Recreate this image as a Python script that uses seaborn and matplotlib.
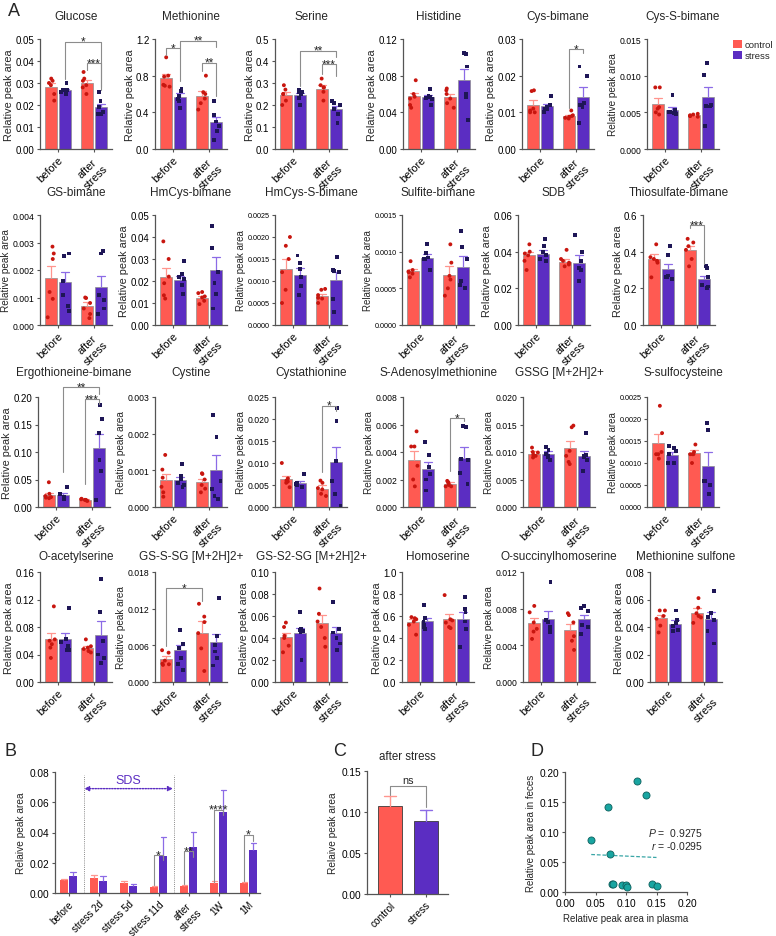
import numpy as np
import pandas as pd
import matplotlib
matplotlib.use("Agg")
import matplotlib.pyplot as plt
import seaborn as sns
from matplotlib.patches import Patch

sns.set_theme(style="ticks")
plt.rcParams['font.family'] = ['Liberation Sans', 'DejaVu Sans']
plt.rcParams['mathtext.fontset'] = 'custom'
plt.rcParams['mathtext.rm'] = 'Liberation Sans'
plt.rcParams['mathtext.it'] = 'Liberation Sans:italic'

TIMES = ["before", "after\nstress"]
GROUPS = ["control", "stress"]

# ---------------- Panel A data: order [before-control, before-stress, after-control, after-stress]
glucose_mean = [0.0283, 0.0268, 0.0300, 0.0193]
glucose_sem = [0.0015, 0.0007, 0.0015, 0.0013]
glucose_pts = [[0.032, 0.031, 0.030, 0.029, 0.025, 0.022], [0.030, 0.027, 0.027, 0.026, 0.026, 0.025],
               [0.035, 0.032, 0.031, 0.029, 0.028, 0.025], [0.026, 0.022, 0.019, 0.017, 0.016, 0.016]]
methionine_mean = [0.78, 0.57, 0.58, 0.29]
methionine_sem = [0.04, 0.04, 0.05, 0.06]
methionine_pts = [[1.00, 0.80, 0.79, 0.70, 0.69, 0.68], [0.66, 0.63, 0.58, 0.55, 0.52, 0.45],
                  [0.80, 0.62, 0.60, 0.55, 0.50, 0.43], [0.52, 0.37, 0.30, 0.25, 0.20, 0.10]]
serine_mean = [0.247, 0.245, 0.275, 0.180]
serine_sem = [0.012, 0.011, 0.014, 0.015]
serine_pts = [[0.29, 0.27, 0.25, 0.25, 0.22, 0.20], [0.27, 0.26, 0.26, 0.25, 0.23, 0.20],
              [0.32, 0.29, 0.28, 0.28, 0.26, 0.22], [0.22, 0.21, 0.20, 0.18, 0.16, 0.12]]
histidine_mean = [0.058, 0.057, 0.057, 0.075]
histidine_sem = [0.003, 0.002, 0.003, 0.012]
histidine_pts = [[0.075, 0.060, 0.057, 0.055, 0.048, 0.045], [0.065, 0.058, 0.057, 0.056, 0.055, 0.048],
                 [0.066, 0.064, 0.060, 0.055, 0.050, 0.045], [0.104, 0.105, 0.090, 0.060, 0.057, 0.032]]
cysb_mean = [0.0120, 0.0117, 0.0090, 0.0143]
cysb_sem = [0.0013, 0.0005, 0.0004, 0.0025]
cysb_pts = [[0.0160, 0.0158, 0.0110, 0.0105, 0.0100, 0.0100], [0.0145, 0.0120, 0.0115, 0.0110, 0.0110, 0.0100],
            [0.0105, 0.0092, 0.0090, 0.0088, 0.0085, 0.0083], [0.0225, 0.0200, 0.0125, 0.0120, 0.0115, 0.0070]]
cyssb_mean = [0.0062, 0.0053, 0.0046, 0.0071]
cyssb_sem = [0.0007, 0.0004, 0.0001, 0.0013]
cyssb_pts = [[0.0084, 0.0084, 0.0057, 0.0055, 0.0050, 0.0047], [0.0074, 0.0053, 0.0051, 0.0050, 0.0049, 0.0048],
             [0.0048, 0.0047, 0.0046, 0.0045, 0.0045, 0.0044], [0.0117, 0.0101, 0.0060, 0.0059, 0.0058, 0.0031]]
gsb_mean = [0.00170, 0.00155, 0.00070, 0.00140]
gsb_sem = [0.00043, 0.00037, 0.00013, 0.00040]
gsb_pts = [[0.00285, 0.00260, 0.00240, 0.00120, 0.00095, 0.00028], [0.00260, 0.00250, 0.00160, 0.00110, 0.00070, 0.00050],
           [0.00100, 0.00098, 0.00080, 0.00060, 0.00040, 0.00025], [0.00270, 0.00260, 0.00110, 0.00090, 0.00060, 0.00040]]
hmcysb_mean = [0.0220, 0.0205, 0.0123, 0.0250]
hmcysb_sem = [0.0040, 0.0020, 0.0010, 0.0060]
hmcysb_pts = [[0.038, 0.030, 0.022, 0.019, 0.0135, 0.012], [0.029, 0.023, 0.022, 0.021, 0.018, 0.014],
              [0.015, 0.0145, 0.013, 0.0125, 0.011, 0.0095], [0.045, 0.035, 0.024, 0.019, 0.014, 0.0075]]
hmcyssb_mean = [0.00128, 0.00114, 0.00065, 0.00103]
hmcyssb_sem = [0.00023, 0.00015, 0.00005, 0.00018]
hmcyssb_pts = [[0.0020, 0.0018, 0.0015, 0.0012, 0.0008, 0.0005], [0.00158, 0.0014, 0.00128, 0.0011, 0.00088, 0.00068],
               [0.00082, 0.0008, 0.00068, 0.00062, 0.0006, 0.0005], [0.00155, 0.00125, 0.00122, 0.0012, 0.0006, 0.0003]]
sulfite_mean = [0.00073, 0.00092, 0.00068, 0.00079]
sulfite_sem = [0.00003, 0.00005, 0.00012, 0.00015]
sulfite_pts = [[0.00087, 0.00075, 0.00073, 0.00072, 0.00070, 0.00065], [0.00110, 0.00098, 0.00092, 0.00090, 0.00090, 0.00075],
               [0.00110, 0.00085, 0.00067, 0.00062, 0.00050, 0.00040], [0.00128, 0.00106, 0.00090, 0.00060, 0.00055, 0.00050]]
sdb_mean = [0.038, 0.039, 0.0345, 0.034]
sdb_sem = [0.0017, 0.0020, 0.0013, 0.0040]
sdb_pts = [[0.044, 0.040, 0.039, 0.038, 0.035, 0.030], [0.047, 0.043, 0.040, 0.038, 0.036, 0.035],
           [0.041, 0.036, 0.035, 0.034, 0.033, 0.032], [0.049, 0.040, 0.035, 0.031, 0.030, 0.024]]
thio_mean = [0.36, 0.305, 0.41, 0.25]
thio_sem = [0.025, 0.030, 0.020, 0.020]
thio_pts = [[0.44, 0.37, 0.36, 0.35, 0.34, 0.26], [0.43, 0.38, 0.27, 0.26, 0.26, 0.25],
            [0.47, 0.45, 0.43, 0.41, 0.36, 0.32], [0.32, 0.31, 0.26, 0.22, 0.21, 0.20]]
ergo_mean = [0.022, 0.021, 0.013, 0.108]
ergo_sem = [0.004, 0.004, 0.0007, 0.025]
ergo_pts = [[0.045, 0.024, 0.020, 0.018, 0.017, 0.016], [0.037, 0.024, 0.018, 0.016, 0.015, 0.015],
            [0.015, 0.014, 0.013, 0.013, 0.012, 0.011], [0.185, 0.160, 0.135, 0.085, 0.065, 0.013]]
cystine_mean = [0.00074, 0.00074, 0.00069, 0.00102]
cystine_sem = [0.00017, 0.00008, 0.00007, 0.00040]
cystine_pts = [[0.00142, 0.00102, 0.0008, 0.00055, 0.0004, 0.00028], [0.00118, 0.00085, 0.00075, 0.00065, 0.0006, 0.00055],
               [0.00092, 0.0009, 0.00075, 0.0006, 0.0005, 0.0004], [0.0025, 0.0019, 0.0007, 0.0005, 0.0003, 0.00022]]
cysta_mean = [0.0063, 0.0054, 0.0042, 0.0103]
cysta_sem = [0.0008, 0.0004, 0.0007, 0.0033]
cysta_pts = [[0.0100, 0.0065, 0.0060, 0.0058, 0.0055, 0.0045], [0.0075, 0.0055, 0.0052, 0.0050, 0.0050, 0.0045],
             [0.0060, 0.0055, 0.0043, 0.0040, 0.0030, 0.0025], [0.0225, 0.0195, 0.0105, 0.0060, 0.0030, 0.0003]]
sam_mean = [0.0034, 0.0028, 0.0017, 0.0036]
sam_sem = [0.0007, 0.0005, 0.0001, 0.0008]
sam_pts = [[0.0055, 0.0044, 0.0044, 0.0030, 0.0020, 0.0015], [0.0047, 0.0038, 0.0029, 0.0024, 0.0020, 0.0012],
           [0.0019, 0.0018, 0.0017, 0.0016, 0.0015, 0.0015], [0.0058, 0.0059, 0.0035, 0.0034, 0.0025, 0.0017]]
gssg_mean = [0.0097, 0.0097, 0.0108, 0.0093]
gssg_sem = [0.0004, 0.0004, 0.0012, 0.0008]
gssg_pts = [[0.0108, 0.0100, 0.0099, 0.0095, 0.0093, 0.0090], [0.0109, 0.0103, 0.0097, 0.0093, 0.0090, 0.0086],
            [0.0148, 0.0145, 0.0102, 0.0093, 0.0082, 0.0078], [0.0134, 0.0095, 0.0092, 0.0090, 0.0085, 0.0065]]
ssc_mean = [0.00145, 0.00118, 0.00123, 0.00094]
ssc_sem = [0.00020, 0.00008, 0.00006, 0.00030]
ssc_pts = [[0.0023, 0.00168, 0.00125, 0.0012, 0.0012, 0.0011], [0.00138, 0.00135, 0.00128, 0.0012, 0.0010, 0.0010],
           [0.00142, 0.00125, 0.0012, 0.0012, 0.0012, 0.0010], [0.0019, 0.00175, 0.0006, 0.0006, 0.0005, 0.0003]]
oas_mean = [0.062, 0.062, 0.050, 0.069]
oas_sem = [0.009, 0.009, 0.003, 0.020]
oas_pts = [[0.110, 0.062, 0.060, 0.055, 0.050, 0.035], [0.107, 0.062, 0.058, 0.052, 0.046, 0.047],
           [0.062, 0.052, 0.050, 0.048, 0.045, 0.043], [0.150, 0.102, 0.060, 0.040, 0.035, 0.027]]
gssg1_mean = [0.0037, 0.0052, 0.0081, 0.0065]
gssg1_sem = [0.0005, 0.0009, 0.0019, 0.0013]
gssg1_pts = [[0.0052, 0.0048, 0.0035, 0.0030, 0.0028, 0.0029], [0.0085, 0.0062, 0.0055, 0.0040, 0.0030, 0.0020],
             [0.0128, 0.0107, 0.0098, 0.0080, 0.0055, 0.0018], [0.0138, 0.0075, 0.0060, 0.0050, 0.0040, 0.0027]]
gssg2_mean = [0.041, 0.045, 0.054, 0.045]
gssg2_sem = [0.004, 0.004, 0.007, 0.005]
gssg2_pts = [[0.054, 0.050, 0.042, 0.040, 0.033, 0.027], [0.064, 0.047, 0.046, 0.045, 0.048, 0.020],
             [0.085, 0.062, 0.055, 0.050, 0.040, 0.032], [0.073, 0.048, 0.045, 0.040, 0.035, 0.029]]
homoser_mean = [0.545, 0.555, 0.575, 0.570]
homoser_sem = [0.030, 0.030, 0.040, 0.070]
homoser_pts = [[0.59, 0.58, 0.57, 0.55, 0.52, 0.43], [0.70, 0.58, 0.55, 0.52, 0.50, 0.48],
               [0.79, 0.57, 0.56, 0.54, 0.50, 0.49], [0.77, 0.66, 0.64, 0.55, 0.48, 0.32]]
osh_mean = [0.0064, 0.0069, 0.0057, 0.0069]
osh_sem = [0.0006, 0.0009, 0.0006, 0.0004]
osh_pts = [[0.0083, 0.0076, 0.0065, 0.0058, 0.0055, 0.0047], [0.0109, 0.0068, 0.0065, 0.0060, 0.0056, 0.0055],
           [0.0075, 0.0073, 0.0065, 0.0050, 0.0045, 0.0035], [0.0083, 0.0081, 0.0077, 0.0062, 0.0060, 0.0052]]
metsulf_mean = [0.0465, 0.0425, 0.0505, 0.0455]
metsulf_sem = [0.0020, 0.0025, 0.0030, 0.0055]
metsulf_pts = [[0.052, 0.052, 0.048, 0.046, 0.041, 0.036], [0.052, 0.045, 0.043, 0.041, 0.038, 0.037],
               [0.061, 0.054, 0.050, 0.048, 0.047, 0.043], [0.066, 0.050, 0.047, 0.045, 0.037, 0.028]]

# (title, y max, tick step, decimals, means, sems, points, brackets)
# bracket: (bar i, bar j, y of line, left leg end, right leg end, label)
PANELS = [
    ("Glucose", 0.05, 0.01, 2, glucose_mean, glucose_sem, glucose_pts,
     [(1, 3, 0.0488, 0.032, 0.027, "*"), (2, 3, 0.039, 0.036, 0.028, "***")]),
    ("Methionine", 1.2, 0.4, 1, methionine_mean, methionine_sem, methionine_pts,
     [(0, 1, 1.10, 1.03, 0.74, "*"), (1, 3, 1.18, 1.10, 1.11, "**"), (2, 3, 0.94, 0.85, 0.58, "**")]),
    ("Serine", 0.5, 0.1, 1, serine_mean, serine_sem, serine_pts,
     [(1, 3, 0.447, 0.288, 0.42, "**"), (2, 3, 0.386, 0.34, 0.33, "***")]),
    ("Histidine", 0.12, 0.04, 2, histidine_mean, histidine_sem, histidine_pts, []),
    ("Cys-bimane", 0.03, 0.01, 2, cysb_mean, cysb_sem, cysb_pts,
     [(2, 3, 0.0273, 0.0112, 0.0262, "*")]),
    ("Cys-S-bimane", 0.015, 0.005, 3, cyssb_mean, cyssb_sem, cyssb_pts, []),
    ("GS-bimane", 0.004, 0.001, 3, gsb_mean, gsb_sem, gsb_pts, []),
    ("HmCys-bimane", 0.05, 0.01, 2, hmcysb_mean, hmcysb_sem, hmcysb_pts, []),
    ("HmCys-S-bimane", 0.0025, 0.0005, 4, hmcyssb_mean, hmcyssb_sem, hmcyssb_pts, []),
    ("Sulfite-bimane", 0.0015, 0.0005, 4, sulfite_mean, sulfite_sem, sulfite_pts, []),
    ("SDB", 0.06, 0.02, 2, sdb_mean, sdb_sem, sdb_pts, []),
    ("Thiosulfate-bimane", 0.6, 0.2, 1, thio_mean, thio_sem, thio_pts,
     [(2, 3, 0.545, 0.53, 0.335, "***")]),
    ("Ergothioneine-bimane", 0.20, 0.05, 2, ergo_mean, ergo_sem, ergo_pts,
     [(1, 3, 0.218, 0.064, 0.205, "**"), (2, 3, 0.196, 0.042, 0.187, "***")]),
    ("Cystine", 0.003, 0.001, 3, cystine_mean, cystine_sem, cystine_pts, []),
    ("Cystathionine", 0.025, 0.005, 3, cysta_mean, cysta_sem, cysta_pts,
     [(2, 3, 0.023, 0.008, 0.0218, "*")]),
    ("S-Adenosylmethionine", 0.008, 0.002, 3, sam_mean, sam_sem, sam_pts,
     [(2, 3, 0.00647, 0.0026, 0.00625, "*")]),
    ("GSSG [M+2H]2+", 0.020, 0.005, 3, gssg_mean, gssg_sem, gssg_pts, []),
    ("S-sulfocysteine", 0.0025, 0.0005, 4, ssc_mean, ssc_sem, ssc_pts, []),
    ("O-acetylserine", 0.16, 0.04, 2, oas_mean, oas_sem, oas_pts, []),
    ("GS-S-SG [M+2H]2+", 0.018, 0.006, 3, gssg1_mean, gssg1_sem, gssg1_pts,
     [(0, 2, 0.0154, 0.0059, 0.0133, "*")]),
    ("GS-S2-SG [M+2H]2+", 0.10, 0.02, 2, gssg2_mean, gssg2_sem, gssg2_pts, []),
    ("Homoserine", 1.0, 0.2, 1, homoser_mean, homoser_sem, homoser_pts, []),
    ("O-succinylhomoserine", 0.012, 0.004, 3, osh_mean, osh_sem, osh_pts, []),
    ("Methionine sulfone", 0.08, 0.02, 2, metsulf_mean, metsulf_sem, metsulf_pts, []),
]

# ---------------- Panel B data
b_times = ["before", "stress 2d", "stress 5d", "stress 11d", "after\nstress", "1W", "1M"]
b_ctrl_mean = [0.0085, 0.0100, 0.0065, 0.0042, 0.0048, 0.0066, 0.0068]
b_ctrl_sem = [0.0008, 0.0018, 0.0016, 0.0005, 0.0006, 0.0012, 0.0008]
b_str_mean = [0.0110, 0.0080, 0.0047, 0.0242, 0.0301, 0.0537, 0.0286]
b_str_sem = [0.0028, 0.0033, 0.0012, 0.0128, 0.0100, 0.0145, 0.0046]
# (category, line y, left leg end, right leg end, label)
b_brackets = [(3, 0.0248, 0.0052, 0.0215, "*"), (4, 0.0278, 0.0058, 0.0240, "**"),
              (5, 0.0550, 0.0075, 0.0515, "****"), (6, 0.0385, 0.0078, 0.0345, "*")]

# ---------------- Panel C data
c_groups = ["control", "stress"]
c_mean = [0.107, 0.089]
c_sem = [0.013, 0.014]

# ---------------- Panel D data
d_plasma = [0.043, 0.071, 0.118, 0.133, 0.074, 0.077, 0.079, 0.094, 0.100, 0.101, 0.143, 0.150]
d_feces = [0.086, 0.141, 0.185, 0.162, 0.064, 0.013, 0.013, 0.011, 0.012, 0.009, 0.013, 0.010]

# ---------------- styling
BAR = {"control": "#FF5A52", "stress": "#5B2DC2"}
ERR = {"control": "#FF958E", "stress": "#8C6BE6"}
DOT = {"control": "#C8160F", "stress": "#1E1656"}
AXC = "#555555"
BRC = "#8C8C8C"
TICK_FS = {1: 7.0, 2: 7.0, 3: 6.2, 4: 5.2}
LAB_FS = {1: 7.8, 2: 7.8, 3: 7.2, 4: 7.0}

W, H = 776, 937
fig = plt.figure(figsize=(W / 100, H / 100), dpi=100)


def add_ax(left, top, w, h):
    return fig.add_axes([left / W, 1 - (top + h) / H, w / W, h / H])


def style_ax(ax, fs=7.0):
    for s in ["top", "right"]:
        ax.spines[s].set_visible(False)
    for s in ["left", "bottom"]:
        ax.spines[s].set_color(AXC)
        ax.spines[s].set_linewidth(0.9)
    ax.tick_params(axis="both", colors=AXC, labelcolor="black", length=2.5, width=0.8,
                   labelsize=fs, pad=1.5)


def add_sem(ax, sems, groups):
    for gi, cont in enumerate(ax.containers):
        for bi, bar in enumerate(cont):
            s = sems[gi][bi] if isinstance(sems[0], (list, tuple)) else sems[bi * len(groups) + gi]
            x = bar.get_x() + bar.get_width() / 2
            top = bar.get_height()
            cw = bar.get_width() * 0.32
            col = ERR[groups[gi]]
            ax.plot([x, x], [top, top + s], color=col, lw=0.9, zorder=3, solid_capstyle="butt")
            ax.plot([x - cw, x + cw], [top + s, top + s], color=col, lw=0.9, zorder=3)


def bracket(ax, x1, x2, yh, yl, yr, label, fs=8.5):
    ax.plot([x1, x1, x2, x2], [yl, yh, yh, yr], color=BRC, lw=0.8, clip_on=False, zorder=5)
    off = 2.0 if label == "ns" else -2.2
    ax.annotate(label, xy=((x1 + x2) / 2, yh), xytext=(0, off), textcoords="offset points",
                ha="center", va="baseline", fontsize=fs, annotation_clip=False)


ROW_TOPS = [40, 216, 398, 573]
TITLE_Y = [17, 193, 373, 557]
COL_LEFT = [[40, 155, 275, 403, 522, 647],
            [40, 155, 275, 402, 518, 643],
            [38, 155, 275, 403, 523, 647],
            [40, 155, 275, 402, 523, 650]]
AW, AH = 72, 110

np.random.seed(3)
for k, (title, ymax, ystep, ndec, mean, sem, pts, brs) in enumerate(PANELS):
    r, c = divmod(k, 6)
    left = COL_LEFT[r][c]
    ax = add_ax(left, ROW_TOPS[r], AW, AH)
    dfm = pd.DataFrame({"time": np.repeat(TIMES, 2), "group": GROUPS * 2, "value": mean})
    sns.barplot(data=dfm, x="time", y="value", hue="group", order=TIMES, hue_order=GROUPS,
                palette=BAR, saturation=1, width=0.8, gap=0.15, errorbar=None, edgecolor="#8f8f8f",
                linewidth=0.5, legend=False, ax=ax, zorder=2)
    add_sem(ax, sem, GROUPS)
    rows = [(TIMES[i // 2], GROUPS[i % 2], v) for i, vals in enumerate(pts) for v in vals]
    dfp = pd.DataFrame(rows, columns=["time", "group", "value"])
    for g, mk in zip(GROUPS, ["o", "s"]):
        sns.stripplot(data=dfp[dfp.group == g], x="time", y="value", hue="group", order=TIMES,
                      hue_order=GROUPS, palette=DOT, dodge=True, jitter=0.24, size=2.8,
                      marker=mk, linewidth=0, legend=False, ax=ax, zorder=4)
    ax.set_xlim(-0.5, 1.5)
    ax.set_ylim(0, ymax)
    ticks = np.round(np.arange(0, ymax + ystep / 2, ystep), 6)
    ax.set_yticks(ticks)
    ax.set_yticklabels([f"{t:.{ndec}f}" for t in ticks])
    ax.set_xticks([0, 1])
    style_ax(ax, fs=TICK_FS[ndec])
    ax.set_xticklabels(TIMES, rotation=45, ha="right", rotation_mode="anchor",
                       multialignment="center", fontsize=7.8)
    ax.set_xlabel("")
    ax.set_ylabel("Relative peak area", fontsize=LAB_FS[ndec], labelpad=1.0)
    xs = [t + d for t in (0, 1) for d in (-0.2, 0.2)]
    for (i, j, yh, yl, yr, lab) in brs:
        bracket(ax, xs[i], xs[j], yh, yl, yr, lab)
    fig.text((left + AW / 2) / W, 1 - TITLE_Y[r] / H, title, ha="center", va="center", fontsize=8.5)

# legend
handles = [Patch(facecolor=BAR[g], edgecolor="none") for g in GROUPS]
fig.legend(handles, GROUPS, loc="upper left", bbox_to_anchor=(729 / W, 1 - 37 / H), frameon=False,
           handlelength=0.95, handleheight=0.95, handletextpad=0.3, labelspacing=0.2, fontsize=6.8,
           borderaxespad=0)

# ---------------- Panel B
axb = add_ax(55, 773, 205, 121)
dfb = pd.DataFrame({"time": b_times * 2, "group": ["control"] * 7 + ["stress"] * 7,
                    "value": b_ctrl_mean + b_str_mean})
sns.barplot(data=dfb, x="time", y="value", hue="group", order=b_times, hue_order=GROUPS, palette=BAR,
            saturation=1, width=0.6, gap=0.12, errorbar=None, edgecolor="none", legend=False, ax=axb, zorder=2)
add_sem(axb, [b_ctrl_sem, b_str_sem], GROUPS)
axb.set_xlim(-0.45, 6.38)
axb.set_ylim(0, 0.08)
axb.set_yticks([0, 0.02, 0.04, 0.06, 0.08])
axb.set_yticklabels(["0.00", "0.02", "0.04", "0.06", "0.08"])
axb.set_xticks(range(7))
axb.set_xticklabels(b_times, rotation=45, ha="right", rotation_mode="anchor", multialignment="center")
axb.set_xlabel("")
axb.set_ylabel("Relaive peak area", fontsize=7.3, labelpad=3)
style_ax(axb, fs=7.3)
axb.tick_params(axis="x", labelsize=7.0)
for xv in (0.5, 3.5):
    axb.plot([xv, xv], [0, 0.078], color="#8a8a8a", lw=0.7, ls=(0, (1, 1.2)), zorder=1)
axb.annotate("", xy=(0.52, 0.069), xytext=(3.48, 0.069),
             arrowprops=dict(arrowstyle="<|-|>", color="#5B2DC2", lw=1.0, ls=(0, (1, 1)),
                             mutation_scale=7, shrinkA=0, shrinkB=0))
axb.text(2.0, 0.0745, "SDS", color="#5B2DC2", ha="center", va="center", fontsize=9)
for (cat, yh, yl, yr, lab) in b_brackets:
    bracket(axb, cat - 0.15, cat + 0.15, yh, yl, yr, lab, fs=9)

# ---------------- Panel C
axc = add_ax(367, 772, 81, 123)
dfc = pd.DataFrame({"group": c_groups, "value": c_mean})
sns.barplot(data=dfc, x="group", y="value", hue="group", order=c_groups, palette=BAR, saturation=1,
            width=0.68, errorbar=None, edgecolor="#3a3a3a", linewidth=0.6, legend=False, ax=axc, zorder=2)
for bi, bar in enumerate(axc.patches):
    x = bar.get_x() + bar.get_width() / 2
    top = bar.get_height()
    cw = bar.get_width() * 0.25
    col = ERR[c_groups[bi]]
    axc.plot([x, x], [top, top + c_sem[bi]], color=col, lw=1.0, zorder=3)
    axc.plot([x - cw, x + cw], [top + c_sem[bi]] * 2, color=col, lw=1.0, zorder=3)
axc.set_xlim(-0.65, 1.63)
axc.set_ylim(0, 0.15)
axc.set_yticks([0, 0.05, 0.10, 0.15])
axc.set_yticklabels(["0.00", "0.05", "0.10", "0.15"])
axc.set_xticks([0, 1])
axc.set_xticklabels(c_groups, rotation=45, ha="right", rotation_mode="anchor")
axc.set_xlabel("")
axc.set_ylabel("Relaive peak area", fontsize=7.3, labelpad=3)
style_ax(axc, fs=7.3)
bracket(axc, 0, 1, 0.132, 0.121, 0.106, "ns", fs=7.8)
fig.text(407 / W, 1 - 757 / H, "after stress", ha="center", va="center", fontsize=8.3)

# ---------------- Panel D
axd = add_ax(565, 773, 122, 120)
sns.regplot(x=d_plasma, y=d_feces, ax=axd, scatter=False, ci=None, truncate=True,
            line_kws=dict(color="#3AA6A6", lw=0.9, ls=(0, (3, 1.5))))
sns.scatterplot(x=d_plasma, y=d_feces, ax=axd, color="#19A5A1", edgecolor="#0E5F5C",
                linewidth=0.6, s=26, zorder=3, clip_on=False, legend=False)
axd.set_xlim(0, 0.2)
axd.set_ylim(0, 0.2)
tk = [0, 0.05, 0.10, 0.15, 0.20]
axd.set_xticks(tk)
axd.set_xticklabels([f"{t:.2f}" for t in tk])
axd.set_yticks(tk)
axd.set_yticklabels([f"{t:.2f}" for t in tk])
axd.set_xlabel("Relative peak area in plasma", fontsize=7, labelpad=4)
axd.set_ylabel("Relative peak area in feces", fontsize=7, labelpad=3)
style_ax(axd, fs=7.3)
axd.text(0.226, 0.100, r"$P$ =  0.9275", ha="right", va="center", fontsize=7.5, clip_on=False)
axd.text(0.226, 0.078, r"$r$ = -0.0295", ha="right", va="center", fontsize=7.5, clip_on=False)

# panel letters
for lab, x, y in [("A", 8, 12), ("B", 5, 752), ("C", 333, 752), ("D", 530, 752)]:
    fig.text(x / W, 1 - y / H, lab, fontsize=13, ha="left", va="center")

fig.savefig("out.png", dpi=100)
